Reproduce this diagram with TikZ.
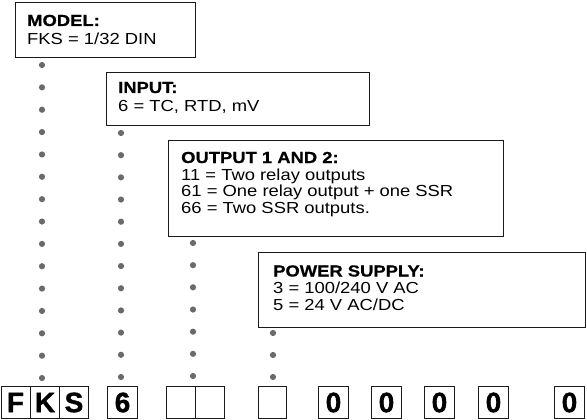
\documentclass[tikz,border=0pt]{standalone}
\usepackage{fontspec}
\newfontfamily\boxfont[FakeStretch=1.15]{Liberation Sans}
\newfontfamily\boxboldfont[FakeStretch=1.15,FakeBold=0.6]{Liberation Sans Bold}
\newfontfamily\codefont[FakeBold=1.2]{Liberation Sans Bold}
\definecolor{dotgray}{HTML}{6A6A6A}
\definecolor{linegray}{HTML}{1A1A1A}
\tikzset{
  infobox/.style={draw=linegray, line width=1pt, fill=white},
  infotext/.style={anchor=base west, inner sep=0pt, font=\boxfont\fontsize{16}{18}\selectfont},
  infohead/.style={anchor=base west, inner sep=0pt, font=\boxboldfont\fontsize{16}{18}\selectfont},
  cell/.style={draw=linegray, line width=1pt, minimum width=29pt, minimum height=32pt, inner sep=0pt, anchor=north west},
  celltext/.style={font=\codefont\fontsize{28}{28}\selectfont},
  dotmark/.style={fill=dotgray, draw=none},
}
\begin{document}
\begin{tikzpicture}[x=1pt,y=-1pt]
\useasboundingbox (0,0) rectangle (587,420);

% info boxes
\draw[infobox] (15,3) rectangle (195,58);
\node[infohead] (mh) at (27,26) {MODEL:};
\node[infotext] (mt) at (27,44.5) {FKS = 1/32 DIN};

\draw[infobox] (106,73) rectangle (369,126);
\node[infohead] (ih) at (118,93) {INPUT:};
\node[infotext] (it) at (118,112) {6 = TC, RTD, mV};

\draw[infobox] (168,140) rectangle (503,236);
\node[infohead] (oh) at (181,163) {OUTPUT 1 AND 2:};
\node[infotext] (o1) at (181,180) {11 = Two relay outputs};
\node[infotext] (o2) at (181,196.5) {61 = One relay output + one SSR};
\node[infotext] (o3) at (181,213) {66 = Two SSR outputs.};

\draw[infobox] (258,252) rectangle (585,327);
\node[infohead] (ph) at (273,276.5) {POWER SUPPLY:};
\node[infotext] (p1) at (273,293.3) {3 = 100/240 V AC};
\node[infotext] (p2) at (273,310) {5 = 24 V AC/DC};

% dots
\foreach \i in {0,...,14} \fill[dotmark] (42,65+22.36*\i) circle (3.1);
\foreach \i in {0,...,11} \fill[dotmark] (121,133+22.18*\i) circle (3.1);
\foreach \i in {0,...,6} \fill[dotmark] (193,243+22.17*\i) circle (3.1);
\foreach \i in {0,...,2} \fill[dotmark] (273,333+22*\i) circle (3.1);

% code cells
\node[cell, celltext] (cF) at (0.5,386) {F};
\node[cell, celltext] (cK) at (30,386) {K};
\node[cell, celltext] (cS) at (59,386) {S};
\node[cell, celltext, minimum width=30pt] (c6) at (107,386) {6};
\node[cell] (e1) at (166,386) {};
\node[cell] (e2) at (195,386) {};
\node[cell, minimum width=28pt] (e3) at (258,386) {};
\node[cell, celltext, minimum width=30pt] (z1) at (318,386) {0};
\node[cell, celltext, minimum width=30pt] (z2) at (371,386) {0};
\node[cell, celltext, minimum width=30pt] (z3) at (424,386) {0};
\node[cell, celltext, minimum width=30pt] (z4) at (478,386) {0};
\node[cell, celltext, minimum width=30pt] (z5) at (554,386) {0};
\end{tikzpicture}
\end{document}
